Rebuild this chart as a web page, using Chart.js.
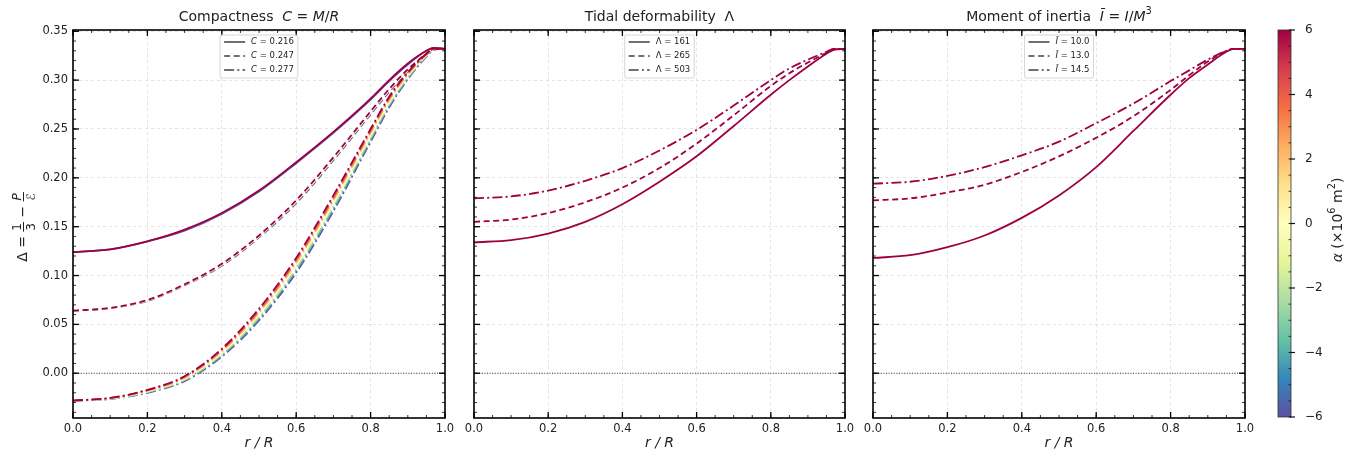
<!DOCTYPE html>
<html><head><meta charset="utf-8">
<script src="https://cdn.jsdelivr.net/npm/chart.js@4.4.0/dist/chart.umd.min.js"></script>
<style>
html,body{margin:0;padding:0;background:#fff;}
body{width:1360px;height:456px;position:relative;overflow:hidden;}
.box{position:absolute;top:0;height:456px;}
</style></head><body>
<div class="box" style="left:0;width:458px"><canvas id="c1"></canvas></div>
<div class="box" style="left:458px;width:400px"><canvas id="c2"></canvas></div>
<div class="box" style="left:858px;width:400px"><canvas id="c3"></canvas></div>
<div class="box" style="left:1258px;width:102px"><canvas id="c4"></canvas></div>
<script>
// ---------------- data ----------------
const R_GRID = [0, 0.1, 0.2, 0.3, 0.4, 0.5, 0.6, 0.7, 0.8, 0.85, 0.9, 0.95, 0.97, 1.0];

// Panel 1: compactness
const C216_A6  = [0.124,0.1268,0.135,0.147,0.164,0.187,0.216,0.247,0.281,0.300,0.317,0.330,0.333,0.332];
const C216_AM6 = [0.124,0.1268,0.135,0.146,0.163,0.186,0.215,0.246,0.280,0.299,0.316,0.330,0.333,0.332];
const C247_A6  = [0.064,0.0668,0.075,0.091,0.112,0.141,0.177,0.221,0.268,0.291,0.311,0.327,0.332,0.332];
const C247_A0  = [0.064,0.0668,0.0745,0.0905,0.111,0.140,0.1755,0.2195,0.2665,0.2895,0.310,0.3265,0.332,0.332];
const C247_AM6 = [0.064,0.0668,0.074,0.090,0.110,0.139,0.174,0.218,0.265,0.288,0.309,0.326,0.332,0.332];
const C277_A6  = [-0.028,-0.0252,-0.017,-0.003,0.025,0.066,0.118,0.182,0.250,0.283,0.308,0.327,0.332,0.332];
const C277_A4  = [-0.028,-0.0254,-0.0175,-0.0038,0.0237,0.064,0.1155,0.1793,0.2478,0.2812,0.3068,0.3265,0.3318,0.332];
const C277_A2  = [-0.028,-0.0256,-0.018,-0.0047,0.0223,0.062,0.113,0.1767,0.2457,0.2793,0.3057,0.326,0.3317,0.332];
const C277_A0  = [-0.028,-0.0258,-0.0185,-0.0055,0.021,0.060,0.1105,0.174,0.2435,0.2775,0.3045,0.3255,0.3315,0.332];
const C277_AM2 = [-0.028,-0.0260,-0.019,-0.0063,0.0197,0.058,0.108,0.1713,0.2413,0.2757,0.3033,0.325,0.3313,0.332];
const C277_AM4 = [-0.028,-0.0262,-0.0195,-0.0072,0.0183,0.056,0.1055,0.1687,0.2392,0.2738,0.3022,0.3245,0.3312,0.332];
const C277_AM6 = [-0.028,-0.0264,-0.020,-0.008,0.017,0.054,0.103,0.166,0.237,0.272,0.301,0.324,0.331,0.332];

// Panel 2: tidal deformability
const L161 = [0.134,0.1362,0.143,0.155,0.173,0.196,0.222,0.253,0.285,0.300,0.314,0.327,0.331,0.332];
const L265 = [0.155,0.1573,0.164,0.175,0.190,0.210,0.235,0.264,0.294,0.307,0.318,0.328,0.332,0.332];
const L503 = [0.179,0.181,0.187,0.197,0.210,0.228,0.249,0.274,0.300,0.312,0.321,0.329,0.332,0.332];

// Panel 3: moment of inertia
const I100 = [0.118,0.1208,0.129,0.141,0.159,0.182,0.211,0.248,0.285,0.302,0.316,0.329,0.332,0.332];
const I130 = [0.177,0.179,0.185,0.193,0.206,0.222,0.241,0.263,0.290,0.305,0.319,0.330,0.332,0.332];
const I145 = [0.194,0.196,0.202,0.211,0.223,0.237,0.256,0.276,0.299,0.310,0.321,0.330,0.332,0.332];

const C_LABELS = ['0.216','0.247','0.277'];
const L_LABELS = ['161','265','503'];
const I_LABELS = ['10.0','13.0','14.5'];

const X_TICKS  = [0, 0.2, 0.4, 0.6, 0.8, 1.0];
const Y_TICKS  = [0, 0.05, 0.10, 0.15, 0.20, 0.25, 0.30, 0.35];
const CB_TICKS = [-6, -4, -2, 0, 2, 4, 6];
const Y_MIN = -0.0458, Y_MAX = 0.3513;

// ---------------- helpers ----------------
const FONT = "'DejaVu Sans', sans-serif";
const SPECTRAL=['#9e0142','#d53e4f','#f46d43','#fdae61','#fee08b','#ffffbf','#e6f598','#abdda4','#66c2a5','#3288bd','#5e4fa2'];
function hex2rgb(h){return [parseInt(h.slice(1,3),16),parseInt(h.slice(3,5),16),parseInt(h.slice(5,7),16)];}
function alphaColor(a){
  const t=(6-a)/12*10; const i=Math.min(9,Math.floor(t)); const f=t-i;
  const c0=hex2rgb(SPECTRAL[i]), c1=hex2rgb(SPECTRAL[i+1]);
  return 'rgb('+c0.map((c,k)=>Math.round(c+(c1[k]-c)*f)).join(',')+')';
}
const DASH = {solid:[], dashed:[6,3.6], dashdot:[10,3.2,2,3.2]};

function segFont(s,size){
  const sz = s[2]==='sup' ? size*0.7 : size;
  return (s[1]?'italic ':'')+sz+'px '+FONT;
}
function segsWidth(ctx,segs,size){
  let w=0; segs.forEach(s=>{ctx.font=segFont(s,size); w+=ctx.measureText(s[0]).width;}); return w;
}
function drawRich(ctx,segs,x,y,size,align){
  const w=segsWidth(ctx,segs,size);
  let cx = align==='center' ? x-w/2 : x;
  ctx.textBaseline='middle'; ctx.textAlign='left';
  segs.forEach(s=>{
    ctx.font=segFont(s,size);
    const dy = s[2]==='sup' ? -size*0.38 : 0;
    ctx.fillText(s[0],cx,y+dy);
    cx+=ctx.measureText(s[0]).width;
  });
  return w;
}
function line(ctx,x1,y1,x2,y2){ctx.beginPath();ctx.moveTo(x1,y1);ctx.lineTo(x2,y2);ctx.stroke();}

function drawFrameTicks(chart){
  const {ctx, chartArea:a, scales:{x,y}} = chart;
  ctx.save(); ctx.strokeStyle='#000'; ctx.setLineDash([]);
  ctx.lineWidth=0.8;
  for(let k=0; k<=20; k++){ const px=x.getPixelForValue(k/20); line(ctx,px,a.bottom,px,a.bottom-3); line(ctx,px,a.top,px,a.top+3); }
  for(let k=-4; k<=35; k++){ const py=y.getPixelForValue(k/100); line(ctx,a.left,py,a.left+3,py); line(ctx,a.right,py,a.right-3,py); }
  ctx.lineWidth=1.3;
  X_TICKS.forEach(v=>{ const px=x.getPixelForValue(v); line(ctx,px,a.bottom,px,a.bottom-6); line(ctx,px,a.top,px,a.top+6); });
  Y_TICKS.forEach(v=>{ const py=y.getPixelForValue(v); line(ctx,a.left,py,a.left+6,py); line(ctx,a.right,py,a.right-6,py); });
  ctx.lineWidth=1.6;
  ctx.strokeRect(a.left,a.top,a.right-a.left,a.bottom-a.top);
  ctx.restore();
}

function drawLegend(ctx,a,items){
  const fs=8.5;
  let tw=0; items.forEach(it=>{tw=Math.max(tw,segsWidth(ctx,it.segs,fs));});
  const lineL=21, gap=6, padL=4, padR=4;
  const w=padL+lineL+gap+tw+padR, h=43;
  const cx=(a.left+a.right)/2, x0=cx-w/2, y0=a.top+5;
  ctx.save();
  ctx.beginPath();
  if(ctx.roundRect) ctx.roundRect(x0,y0,w,h,2); else ctx.rect(x0,y0,w,h);
  ctx.fillStyle='rgba(255,255,255,0.85)'; ctx.fill();
  ctx.strokeStyle='#cccccc'; ctx.lineWidth=0.8; ctx.stroke();
  items.forEach((it,i)=>{
    const yy=y0+7+i*14;
    ctx.strokeStyle='#707070'; ctx.lineWidth=2; ctx.setLineDash(DASH[it.dash]);
    line(ctx,x0+padL,yy,x0+padL+lineL,yy);
    ctx.setLineDash([]);
    ctx.fillStyle='#222';
    drawRich(ctx,it.segs,x0+padL+lineL+gap,yy,fs,'left');
  });
  ctx.restore();
}

function drawYTitle(ctx){
  ctx.save();
  ctx.translate(23,227); ctx.rotate(-Math.PI/2);
  ctx.fillStyle='#222';
  const big=14, sm=12;
  const parts=[
    {t:[['Δ = ',0]]},
    {num:['1',0], den:['3',0]},
    {t:[[' − ',0]]},
    {num:['P',1], den:['ℰ',1]}
  ];
  const widths=parts.map(p=>{
    if(p.t) return segsWidth(ctx,p.t,big);
    return Math.max(segsWidth(ctx,[p.num],sm),segsWidth(ctx,[p.den],sm))+2;
  });
  let x=-widths.reduce((s,v)=>s+v,0)/2;
  parts.forEach((p,i)=>{
    const w=widths[i];
    if(p.t){ drawRich(ctx,p.t,x,0,big,'left'); }
    else{
      ctx.textAlign='center'; ctx.textBaseline='alphabetic';
      ctx.font=segFont(p.num,sm); ctx.fillText(p.num[0],x+w/2,-2.5);
      ctx.font=segFont(p.den,sm); ctx.fillText(p.den[0],x+w/2,12);
      ctx.strokeStyle='#222'; ctx.lineWidth=1; line(ctx,x,0.5,x+w,0.5);
    }
    x+=w;
  });
  ctx.restore();
}

function dataset(arr,alpha,dash){
  return {data:R_GRID.map((r,i)=>({x:r,y:arr[i]})), showLine:true, borderColor:alphaColor(alpha),
    borderWidth:1.8, borderDash:DASH[dash], pointRadius:0, pointHoverRadius:0,
    cubicInterpolationMode:'monotone', fill:false, order:10+(6-alpha)};
}

const PANELS=[
  {id:'c1', yWidth:73, showY:true,
   title:[['Compactness  ',0],['C',1],[' = ',0],['M',1],['/',0],['R',1]],
   legend:[{dash:'solid',segs:[['C',1],[' = '+C_LABELS[0],0]]},
           {dash:'dashed',segs:[['C',1],[' = '+C_LABELS[1],0]]},
           {dash:'dashdot',segs:[['C',1],[' = '+C_LABELS[2],0]]}],
   curves:[{dash:'solid',v:[[-6,C216_AM6],[6,C216_A6]]},
           {dash:'dashed',v:[[-6,C247_AM6],[0,C247_A0],[6,C247_A6]]},
           {dash:'dashdot',v:[[-6,C277_AM6],[-4,C277_AM4],[-2,C277_AM2],[0,C277_A0],[2,C277_A2],[4,C277_A4],[6,C277_A6]]}]},
  {id:'c2', yWidth:16, showY:false,
   title:[['Tidal deformability  Λ',0]],
   legend:[{dash:'solid',segs:[['Λ = '+L_LABELS[0],0]]},
           {dash:'dashed',segs:[['Λ = '+L_LABELS[1],0]]},
           {dash:'dashdot',segs:[['Λ = '+L_LABELS[2],0]]}],
   curves:[{dash:'solid',v:[[6,L161]]},{dash:'dashed',v:[[6,L265]]},{dash:'dashdot',v:[[6,L503]]}]},
  {id:'c3', yWidth:15, showY:false,
   title:[['Moment of inertia  ',0],['Ī',1],[' = ',0],['I',1],['/',0],['M',1],['3',0,'sup']],
   legend:[{dash:'solid',segs:[['Ī',1],[' = '+I_LABELS[0],0]]},
           {dash:'dashed',segs:[['Ī',1],[' = '+I_LABELS[1],0]]},
           {dash:'dashdot',segs:[['Ī',1],[' = '+I_LABELS[2],0]]}],
   curves:[{dash:'solid',v:[[6,I100]]},{dash:'dashed',v:[[6,I130]]},{dash:'dashdot',v:[[6,I145]]}]}
];

Chart.defaults.font.family=FONT;
Chart.defaults.color='#222';

PANELS.forEach(p=>{
  const datasets=[{data:[{x:0,y:0},{x:1,y:0}], showLine:true, borderColor:'#000', borderWidth:0.8,
                   borderDash:[1,1.6], pointRadius:0, pointHoverRadius:0, order:100}];
  p.curves.forEach(c=>c.v.forEach(([a,arr])=>datasets.push(dataset(arr,a,c.dash))));
  new Chart(document.getElementById(p.id),{
    type:'scatter',
    data:{datasets},
    options:{
      responsive:true, maintainAspectRatio:false, animation:false, devicePixelRatio:1,
      layout:{padding:{left:0,right:13,top:30,bottom:0}},
      plugins:{legend:{display:false},tooltip:{enabled:false},title:{display:false}},
      events:[],
      scales:{
        x:{type:'linear',min:0,max:1,
           afterBuildTicks:s=>{s.ticks=X_TICKS.map(v=>({value:v}));},
           afterFit:s=>{s.height=38;s.paddingLeft=0;s.paddingRight=0;},
           grid:{color:'#dedede',lineWidth:0.8,drawTicks:false},
           border:{display:false,dash:[3,3]},
           ticks:{font:{family:FONT,size:11.5},color:'#222',padding:4,maxRotation:0,autoSkip:false,callback:v=>Number(v).toFixed(1)},
           title:{display:true,text:'r / R',font:{family:FONT,size:14,style:'italic'},color:'#222',padding:{top:0,bottom:4}}},
        y:{type:'linear',min:Y_MIN,max:Y_MAX,
           afterBuildTicks:s=>{s.ticks=Y_TICKS.map(v=>({value:v}));},
           afterFit:s=>{s.width=p.yWidth;s.paddingTop=0;s.paddingBottom=0;},
           grid:{color:'#dedede',lineWidth:0.8,drawTicks:false},
           border:{display:false,dash:[3,3]},
           ticks:{display:p.showY,font:{family:FONT,size:11.5},color:'#222',padding:5,autoSkip:false,callback:v=>Number(v).toFixed(2)}}
      }
    },
    plugins:[{id:'deco',afterDraw(chart){
      const ctx=chart.ctx, a=chart.chartArea;
      drawFrameTicks(chart);
      ctx.save(); ctx.fillStyle='#222';
      drawRich(ctx,p.title,(a.left+a.right)/2,17,14,'center');
      ctx.restore();
      drawLegend(ctx,a,p.legend);
      if(p.showY) drawYTitle(ctx);
    }}]
  });
});

// colorbar
new Chart(document.getElementById('c4'),{
  type:'scatter',
  data:{datasets:[]},
  options:{
    responsive:true, maintainAspectRatio:false, animation:false, devicePixelRatio:1, events:[],
    layout:{padding:{left:20,right:0,top:30,bottom:39}},
    plugins:{legend:{display:false},tooltip:{enabled:false}},
    scales:{
      x:{display:false,min:0,max:1},
      y:{position:'right',min:-6,max:6,
         afterBuildTicks:s=>{s.ticks=CB_TICKS.map(v=>({value:v}));},
         afterFit:s=>{s.width=69;s.paddingTop=0;s.paddingBottom=0;},
         grid:{display:false},border:{display:false},
         ticks:{font:{family:FONT,size:12},color:'#222',padding:6,autoSkip:false,
                callback:v=>v<0?'−'+Math.abs(v):String(v)}}
    }
  },
  plugins:[{id:'cb',afterDraw(chart){
    const {ctx,chartArea:a,scales:{y}}=chart;
    ctx.save();
    const g=ctx.createLinearGradient(0,y.getPixelForValue(-6),0,y.getPixelForValue(6));
    for(let i=0;i<=10;i++) g.addColorStop(i/10,SPECTRAL[10-i]);
    ctx.fillStyle=g; ctx.fillRect(a.left,a.top,a.right-a.left,a.bottom-a.top);
    ctx.strokeStyle='#333'; ctx.lineWidth=0.8; ctx.strokeRect(a.left,a.top,a.right-a.left,a.bottom-a.top);
    ctx.strokeStyle='#111';
    ctx.lineWidth=0.8;
    for(let k=-12;k<=12;k++){ const py=y.getPixelForValue(k/2); line(ctx,a.right,py,a.right-2.5,py); }
    ctx.lineWidth=1.2;
    CB_TICKS.forEach(v=>{ const py=y.getPixelForValue(v); line(ctx,a.right-1,py,a.right+4,py); });
    ctx.translate(a.right+47,220); ctx.rotate(-Math.PI/2);
    ctx.fillStyle='#222';
    drawRich(ctx,[['α',1],[' (×10',0],['6',0,'sup'],[' m',0],['2',0,'sup'],[')',0]],0,0,14,'center');
    ctx.restore();
  }}]
});
</script>
</body></html>
